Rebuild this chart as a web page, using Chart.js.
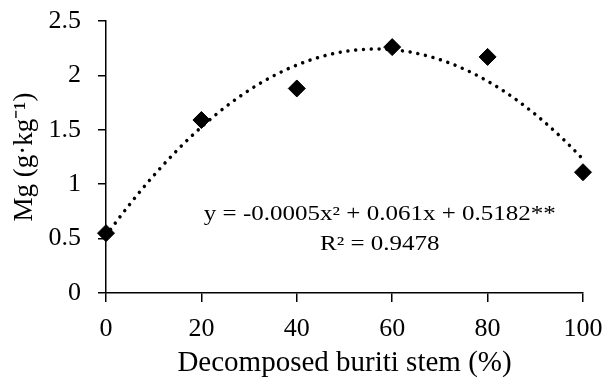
<!DOCTYPE html>
<html>
<head>
<meta charset="utf-8">
<script src="https://cdn.jsdelivr.net/npm/chart.js@4.4.1/dist/chart.umd.min.js"></script>
<style>
  html, body { margin: 0; padding: 0; background: #fff; }
  #wrap { position: relative; width: 606px; height: 381px; }
</style>
</head>
<body>
<div id="wrap"><canvas id="chart" width="606" height="381"></canvas></div>
<script>
// Daten
const stemPercent = [0, 20, 40, 60, 80, 100];
const mgValues = [0.55, 1.59, 1.88, 2.26, 2.17, 1.11];
const xTicks = [0, 20, 40, 60, 80, 100];
const yTicks = [0, 0.5, 1, 1.5, 2, 2.5];
const equationText = 'y = -0.0005x² + 0.061x + 0.5182**';
const r2Text = 'R² = 0.9478';

// quadratische Trendlinie (kleinste Quadrate) aus den Messpunkten
function quadFit(xs, ys) {
    const S = [0, 0, 0, 0, 0], T = [0, 0, 0];
    xs.forEach((x, i) => {
        for (let k = 0; k < 5; k++) S[k] += Math.pow(x, k);
        for (let k = 0; k < 3; k++) T[k] += Math.pow(x, k) * ys[i];
    });
    const M = [[S[0], S[1], S[2], T[0]], [S[1], S[2], S[3], T[1]], [S[2], S[3], S[4], T[2]]];
    for (let c = 0; c < 3; c++) {
        for (let r = c + 1; r < 3; r++) {
            const f = M[r][c] / M[c][c];
            for (let k = c; k < 4; k++) M[r][k] -= f * M[c][k];
        }
    }
    const b = [0, 0, 0];
    for (let r = 2; r >= 0; r--) {
        let s = M[r][3];
        for (let k = r + 1; k < 3; k++) s -= M[r][k] * b[k];
        b[r] = s / M[r][r];
    }
    return b;
}

const coef = quadFit(stemPercent, mgValues);
const trend = [];
for (let x = stemPercent[0]; x <= stemPercent[stemPercent.length - 1]; x += 1) {
    trend.push({ x: x, y: coef[0] + coef[1] * x + coef[2] * x * x });
}

const serif = "'Liberation Serif', 'Times New Roman', serif";

// Gleichung und R² ins Diagramm schreiben (Text im Original etwas breit gezogen)
const equationPlugin = {
    id: 'equation',
    afterDatasetsDraw(chart) {
        const { ctx, scales } = chart;
        const cx = scales.x.getPixelForValue(57.4);
        const lines = [[equationText, 0.715], [r2Text, 0.44]];
        ctx.save();
        ctx.fillStyle = '#000';
        ctx.font = '20px ' + serif;
        ctx.textAlign = 'center';
        ctx.textBaseline = 'middle';
        lines.forEach(([txt, v]) => {
            ctx.save();
            ctx.translate(cx, scales.y.getPixelForValue(v));
            ctx.scale(1.25, 1);
            ctx.fillText(txt, 0, 0);
            ctx.restore();
        });
        ctx.restore();
    }
};

new Chart(document.getElementById('chart'), {
    type: 'scatter',
    data: {
        datasets: [
            {
                label: 'Mg',
                data: stemPercent.map((x, i) => ({ x: x, y: mgValues[i] })),
                pointStyle: 'rectRot',
                pointRadius: 8.5,
                pointHoverRadius: 8.5,
                backgroundColor: '#000',
                borderColor: '#000',
                borderWidth: 1,
                clip: false,
                order: 0
            },
            {
                label: 'Trend',
                type: 'line',
                data: trend,
                borderColor: '#000',
                borderWidth: 3.5,
                borderDash: [0.01, 7.8],
                borderCapStyle: 'round',
                pointRadius: 0,
                fill: false,
                tension: 0,
                clip: false,
                order: 1
            }
        ]
    },
    options: {
        responsive: false,
        animation: false,
        events: [],
        layout: { padding: { top: 21, right: 23, left: 0, bottom: 0 } },
        plugins: {
            legend: { display: false },
            tooltip: { enabled: false }
        },
        scales: {
            x: {
                type: 'linear',
                min: 0,
                max: 100,
                afterBuildTicks: s => { s.ticks = xTicks.map(v => ({ value: v })); },
                afterFit: s => { s.height = 88; s.paddingLeft = 0; s.paddingRight = 0; },
                border: { display: true, color: '#000', width: 1.5 },
                grid: { drawOnChartArea: false, drawTicks: true, tickLength: 9, color: '#000', lineWidth: 1.5 },
                ticks: { color: '#000', font: { family: serif, size: 26 }, padding: 12, maxRotation: 0 },
                title: {
                    display: true,
                    text: 'Decomposed buriti stem (%)',
                    color: '#000',
                    font: { family: serif, size: 29 },
                    padding: { top: 5, bottom: 0 }
                }
            },
            y: {
                min: 0,
                max: 2.5,
                afterBuildTicks: s => { s.ticks = yTicks.map(v => ({ value: v })); },
                afterFit: s => { s.width = 106; s.paddingTop = 0; s.paddingBottom = 0; },
                border: { display: true, color: '#000', width: 1.5 },
                grid: { drawOnChartArea: false, drawTicks: true, tickLength: 8, color: '#000', lineWidth: 1.5 },
                ticks: {
                    color: '#000',
                    font: { family: serif, size: 26 },
                    padding: 17,
                    callback: v => String(v)
                },
                title: {
                    display: true,
                    text: 'Mg (g·kg⁻¹)',
                    color: '#000',
                    font: { family: serif, size: 27 },
                    padding: { top: 9, bottom: 0 }
                }
            }
        }
    },
    plugins: [equationPlugin]
});
</script>
</body>
</html>
